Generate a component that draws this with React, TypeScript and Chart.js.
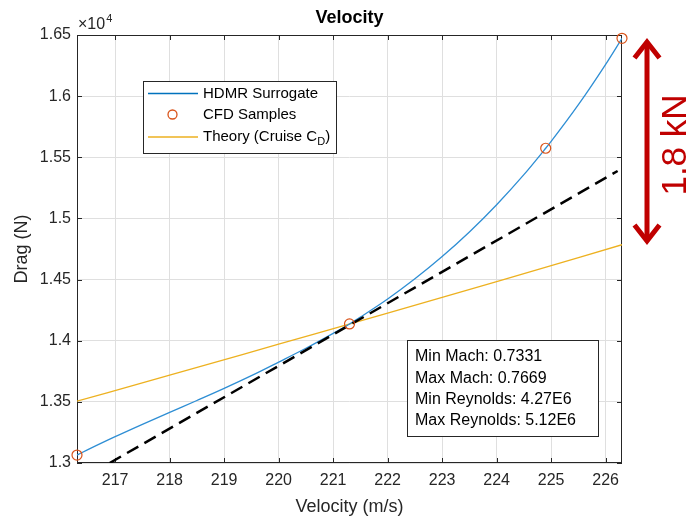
import React, { useEffect, useRef } from 'react';
import { Chart, registerables } from 'chart.js';

Chart.register(...registerables);

const FONT = '"Liberation Sans", Arial, Helvetica, sans-serif';
const AXIS_INK = '#262626';
const GRID_INK = '#dfdfdf';

// Axis ticks
const xTicks = [217, 218, 219, 220, 221, 222, 223, 224, 225, 226];
const yTicks = [13000, 13500, 14000, 14500, 15000, 15500, 16000, 16500];
const yTickLabels = ['1.3', '1.35', '1.4', '1.45', '1.5', '1.55', '1.6', '1.65'];

// CFD sample points (velocity in m/s, drag in N)
const sampleVelocity = [216.3, 221.3, 224.9, 226.3];
const sampleDrag = [13065, 14137, 15574, 16473];

// HDMR surrogate response
const surrogateVelocity = [
  216.3, 216.5, 217, 217.5, 218, 218.5, 219, 219.5, 220, 220.5, 221, 221.3,
  221.5, 222, 222.5, 223, 223.5, 224, 224.5, 224.9, 225, 225.5, 226, 226.3,
];
const surrogateDrag = [
  13065, 13109, 13215, 13316, 13414, 13511, 13610, 13714, 13825, 13938, 14060, 14137,
  14193, 14341, 14506, 14688, 14889, 15112, 15358, 15574, 15630, 15930, 16260, 16473,
];

// Cruise drag coefficient held constant
const theoryVelocity = [216.3, 218, 220, 222, 224, 226.3];
const theoryDrag = [13505, 13718, 13972, 14226, 14484, 14785];

// Local slope at the design point
const tangentVelocity = [216.9, 226.22];
const tangentDrag = [13000, 15388];

const legendNames = ['HDMR Surrogate', 'CFD Samples', 'Theory (Cruise C'];
const legendSubscript = 'D';
const flightInfo = [
  'Min Mach: 0.7331',
  'Max Mach: 0.7669',
  'Min Reynolds: 4.27E6',
  'Max Reynolds: 5.12E6',
];
const spreadLabel = '1.8 kN';

const BLUE = '#0072BD';
const CURVE_BLUE = '#2e8ed4';
const ORANGE = '#D95319';
const YELLOW = '#EDB120';
const RED = '#C00000';

const pairs = (xs: number[], ys: number[]) => xs.map((x, i) => ({ x, y: ys[i] }));

const frame = {
  id: 'frame',
  beforeDatasetsDraw(chart: any) {
    const { ctx, chartArea: a, scales } = chart;
    ctx.save();
    ctx.strokeStyle = AXIS_INK;
    ctx.lineWidth = 1;
    ctx.strokeRect(a.left + 0.5, a.top + 0.5, a.right - a.left - 1, a.bottom - a.top - 1);
    ctx.beginPath();
    for (const t of scales.x.ticks) {
      const px = Math.round(scales.x.getPixelForValue(t.value)) + 0.5;
      ctx.moveTo(px, a.bottom);
      ctx.lineTo(px, a.bottom - 5);
      ctx.moveTo(px, a.top);
      ctx.lineTo(px, a.top + 5);
    }
    for (const t of scales.y.ticks) {
      const py = Math.round(scales.y.getPixelForValue(t.value)) + 0.5;
      ctx.moveTo(a.left, py);
      ctx.lineTo(a.left + 5, py);
      ctx.moveTo(a.right, py);
      ctx.lineTo(a.right - 5, py);
    }
    ctx.stroke();
    ctx.restore();
  },
  afterDraw(chart: any) {
    const { ctx, chartArea: a } = chart;
    const cx = (a.left + a.right) / 2;
    const cy = (a.top + a.bottom) / 2;
    ctx.save();

    // title
    ctx.fillStyle = '#000';
    ctx.font = `bold 18px ${FONT}`;
    ctx.textAlign = 'center';
    ctx.textBaseline = 'middle';
    ctx.fillText('Velocity', cx, 18);

    // axis titles
    ctx.fillStyle = AXIS_INK;
    ctx.font = `18px ${FONT}`;
    ctx.fillText('Velocity (m/s)', cx, 507);
    ctx.save();
    ctx.translate(22, cy);
    ctx.rotate(-Math.PI / 2);
    ctx.fillText('Drag (N)', 0, 0);
    ctx.restore();

    // exponent marker
    ctx.textAlign = 'left';
    ctx.font = `16px ${FONT}`;
    ctx.fillText('\u00d710', a.left + 1, 25);
    const w10 = ctx.measureText('\u00d710').width;
    ctx.font = `11px ${FONT}`;
    ctx.fillText('4', a.left + 1 + w10 + 1, 19);

    // legend
    const lx = 143, ly = 81, lw = 193, lh = 72;
    ctx.fillStyle = '#fff';
    ctx.fillRect(lx, ly, lw, lh);
    ctx.strokeStyle = AXIS_INK;
    ctx.lineWidth = 1;
    ctx.strokeRect(lx + 0.5, ly + 0.5, lw, lh);
    const rows = [93.5, 114.5, 137];
    ctx.lineWidth = 1.5;
    ctx.strokeStyle = BLUE;
    ctx.beginPath();
    ctx.moveTo(148, rows[0]);
    ctx.lineTo(198, rows[0]);
    ctx.stroke();
    ctx.strokeStyle = ORANGE;
    ctx.lineWidth = 1.3;
    ctx.beginPath();
    ctx.arc(172.5, rows[1], 4.5, 0, Math.PI * 2);
    ctx.stroke();
    ctx.strokeStyle = YELLOW;
    ctx.lineWidth = 1.5;
    ctx.beginPath();
    ctx.moveTo(148, rows[2]);
    ctx.lineTo(198, rows[2]);
    ctx.stroke();
    ctx.fillStyle = '#000';
    ctx.font = `15px ${FONT}`;
    ctx.textBaseline = 'middle';
    legendNames.forEach((name, i) => ctx.fillText(name, 203, rows[i]));
    let tx = 203 + ctx.measureText(legendNames[2]).width;
    ctx.font = `11px ${FONT}`;
    ctx.fillText(legendSubscript, tx, rows[2] + 5);
    tx += ctx.measureText(legendSubscript).width;
    ctx.font = `15px ${FONT}`;
    ctx.fillText(')', tx, rows[2]);

    // flight condition box
    const bx = 407, by = 340, bw = 191, bh = 96;
    ctx.fillStyle = '#fff';
    ctx.fillRect(bx, by, bw, bh);
    ctx.strokeStyle = AXIS_INK;
    ctx.lineWidth = 1;
    ctx.strokeRect(bx + 0.5, by + 0.5, bw, bh);
    ctx.fillStyle = '#000';
    ctx.font = `16px ${FONT}`;
    flightInfo.forEach((line, i) => ctx.fillText(line, 415, 357 + i * 21.3));

    // drag spread double arrow
    const ax = 647, top = 38, bottom = 245;
    ctx.strokeStyle = RED;
    ctx.lineWidth = 5;
    ctx.lineCap = 'butt';
    ctx.lineJoin = 'miter';
    ctx.beginPath();
    ctx.moveTo(ax, top + 4);
    ctx.lineTo(ax, bottom - 4);
    ctx.stroke();
    ctx.beginPath();
    ctx.moveTo(ax - 12.5, top + 20);
    ctx.lineTo(ax, top + 4);
    ctx.lineTo(ax + 12.5, top + 20);
    ctx.moveTo(ax - 12.5, bottom - 20);
    ctx.lineTo(ax, bottom - 4);
    ctx.lineTo(ax + 12.5, bottom - 20);
    ctx.stroke();

    ctx.save();
    ctx.translate(686, 145);
    ctx.rotate(-Math.PI / 2);
    ctx.fillStyle = RED;
    ctx.font = `35px ${FONT}`;
    ctx.textAlign = 'center';
    ctx.textBaseline = 'alphabetic';
    ctx.fillText(spreadLabel, 0, 0);
    ctx.restore();

    ctx.restore();
  },
};

export default function App() {
  const canvasRef = useRef<HTMLCanvasElement | null>(null);

  useEffect(() => {
    const canvas = canvasRef.current;
    if (!canvas) return;
    const chart = new Chart(canvas, {
      type: 'line',
      data: {
        datasets: [
          {
            label: 'CFD Samples',
            data: pairs(sampleVelocity, sampleDrag),
            showLine: false,
            pointRadius: 5,
            pointHoverRadius: 5,
            pointBorderColor: ORANGE,
            pointBackgroundColor: 'rgba(0,0,0,0)',
            pointBorderWidth: 1.2,
            borderColor: ORANGE,
            clip: false,
            order: 0,
          },
          {
            label: 'Tangent',
            data: pairs(tangentVelocity, tangentDrag),
            borderColor: '#000',
            borderWidth: 2.5,
            borderDash: [13, 7],
            pointRadius: 0,
            order: 1,
          },
          {
            label: 'HDMR Surrogate',
            data: pairs(surrogateVelocity, surrogateDrag),
            borderColor: CURVE_BLUE,
            borderWidth: 1.3,
            pointRadius: 0,
            cubicInterpolationMode: 'monotone',
            order: 2,
          },
          {
            label: 'Theory',
            data: pairs(theoryVelocity, theoryDrag),
            borderColor: YELLOW,
            borderWidth: 1.3,
            pointRadius: 0,
            cubicInterpolationMode: 'monotone',
            order: 3,
          },
        ],
      },
      options: {
        animation: false,
        responsive: false,
        devicePixelRatio: 1,
        events: [],
        layout: { padding: { left: 0, right: 65, top: 35, bottom: 0 } },
        plugins: {
          legend: { display: false },
          tooltip: { enabled: false },
          title: { display: false },
        },
        scales: {
          x: {
            type: 'linear',
            min: sampleVelocity[0],
            max: sampleVelocity[sampleVelocity.length - 1],
            afterBuildTicks: (scale: any) => {
              scale.ticks = xTicks.map((value) => ({ value }));
            },
            afterFit: (scale: any) => {
              scale.height = 55;
            },
            ticks: {
              autoSkip: false,
              maxRotation: 0,
              padding: 8,
              color: AXIS_INK,
              font: { family: FONT, size: 16 },
              callback: (v: any) => String(v),
            },
            grid: { color: GRID_INK, lineWidth: 1, drawTicks: false },
            border: { display: false },
          },
          y: {
            type: 'linear',
            min: yTicks[0],
            max: yTicks[yTicks.length - 1],
            afterBuildTicks: (scale: any) => {
              scale.ticks = yTicks.map((value) => ({ value }));
            },
            afterFit: (scale: any) => {
              scale.width = 77;
            },
            ticks: {
              autoSkip: false,
              padding: 6,
              color: AXIS_INK,
              font: { family: FONT, size: 16 },
              callback: (_v: any, i: number) => yTickLabels[i],
            },
            grid: { color: GRID_INK, lineWidth: 1, drawTicks: false },
            border: { display: false },
          },
        },
      },
      plugins: [frame],
    } as any);
    return () => chart.destroy();
  }, []);

  return (
    <div style={{ position: 'absolute', left: 0, top: 0, width: 687, height: 518, background: '#fff' }}>
      <canvas ref={canvasRef} width={687} height={518} style={{ display: 'block' }} />
    </div>
  );
}
